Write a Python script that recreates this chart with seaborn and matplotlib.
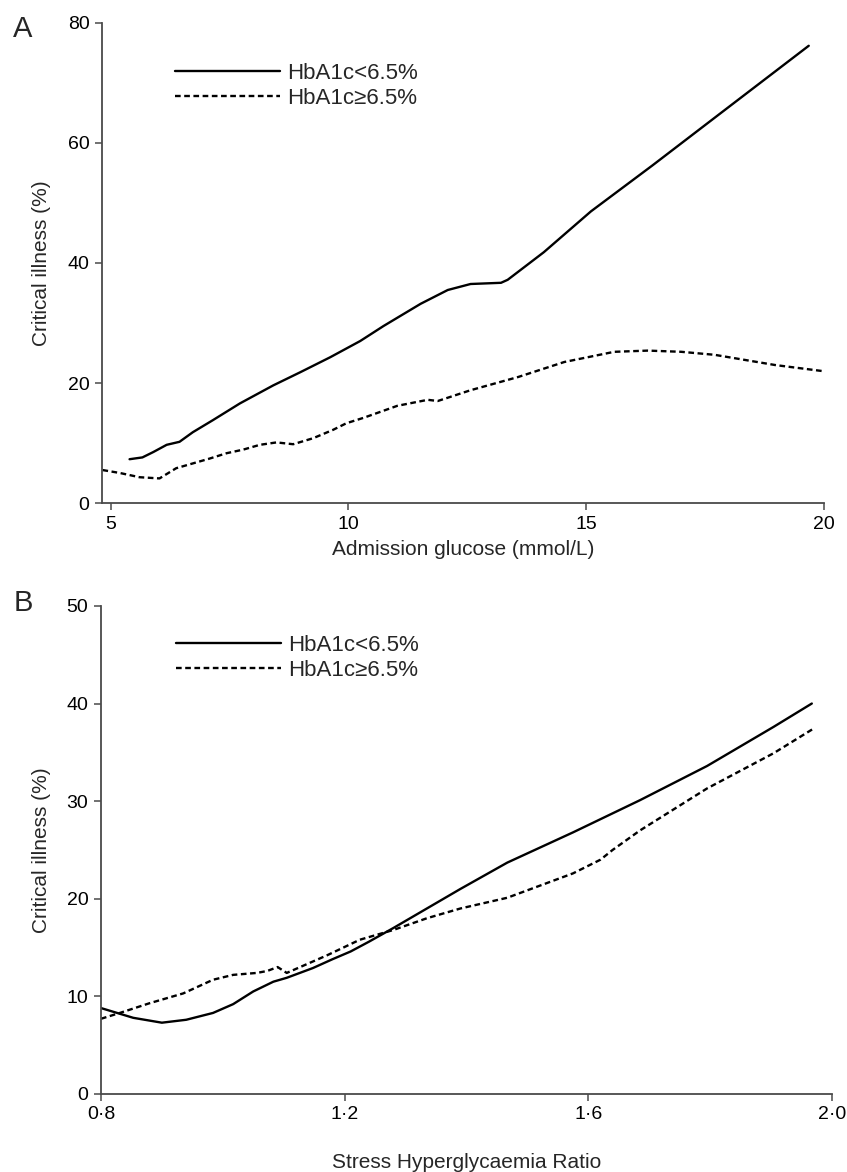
import pandas as pd
import matplotlib
matplotlib.use("Agg")
import matplotlib.pyplot as plt
import seaborn as sns

# Panel A: admission glucose (mmol/L) vs critical illness (%)
a_low_x = [5.4, 5.67, 5.9, 6.18, 6.45, 6.73, 7.15, 7.72, 8.42, 8.99, 9.62, 10.25, 10.74,
           11.52, 12.09, 12.57, 13.21, 13.35, 14.11, 15.1, 16.4, 17.8, 19.68]
a_low_y = [7.3, 7.6, 8.5, 9.7, 10.2, 11.8, 13.8, 16.6, 19.6, 21.8, 24.3, 27.0, 29.5,
           33.2, 35.5, 36.5, 36.7, 37.2, 41.8, 48.6, 56.3, 64.8, 76.2]
a_high_x = [4.83, 5.2, 5.61, 6.03, 6.38, 6.73, 7.08, 7.44, 7.79, 8.14, 8.49, 8.84, 9.26,
            9.68, 9.96, 10.32, 11.03, 11.67, 11.88, 12.57, 13.57, 14.54, 15.59, 16.3,
            17.0, 17.7, 18.97, 19.96]
a_high_y = [5.5, 5.0, 4.3, 4.1, 5.8, 6.6, 7.4, 8.3, 8.9, 9.7, 10.1, 9.8, 10.8,
            12.2, 13.3, 14.2, 16.2, 17.2, 17.0, 18.8, 21.0, 23.5, 25.2, 25.4,
            25.2, 24.7, 23.0, 22.0]

# Panel B: stress hyperglycaemia ratio vs critical illness (%)
b_low_x = [0.80, 0.853, 0.90, 0.94, 0.984, 1.017, 1.05, 1.083, 1.105, 1.148, 1.18, 1.21,
           1.24, 1.28, 1.335, 1.39, 1.467, 1.575, 1.685, 1.795, 1.904, 1.967]
b_low_y = [8.8, 7.8, 7.3, 7.6, 8.3, 9.2, 10.5, 11.5, 11.9, 12.9, 13.8, 14.6,
           15.6, 17.0, 19.0, 21.0, 23.7, 26.8, 30.1, 33.6, 37.6, 40.0]
b_high_x = [0.80, 0.831, 0.88, 0.935, 0.984, 1.017, 1.056, 1.073, 1.09, 1.105, 1.116,
            1.171, 1.225, 1.28, 1.335, 1.39, 1.467, 1.575, 1.62, 1.64, 1.685, 1.795,
            1.904, 1.969]
b_high_y = [7.7, 8.3, 9.3, 10.3, 11.7, 12.2, 12.4, 12.6, 13.0, 12.4, 12.7,
            14.2, 15.8, 16.8, 18.0, 19.0, 20.1, 22.6, 24.0, 25.0, 27.0, 31.3,
            34.9, 37.4]

groups = ["HbA1c<6.5%", "HbA1c≥6.5%"]
b_ticks = [0.8, 1.2, 1.6, 2.0]
b_ticklabels = ["0·8", "1·2", "1·6", "2·0"]

sns.set_style("ticks")
plt.rcParams["font.family"] = ["Liberation Sans", "DejaVu Sans"]

grey = "#4a4a4a"
fig = plt.figure(figsize=(8.47, 11.72), dpi=100)
ax_a = fig.add_axes([0.1204, 0.5708, 0.8524, 0.4096])
ax_b = fig.add_axes([0.1192, 0.0666, 0.8630, 0.4164])


def make_df(x_low, y_low, x_high, y_high):
    return pd.concat([
        pd.DataFrame({"x": x_low, "y": y_low, "group": groups[0]}),
        pd.DataFrame({"x": x_high, "y": y_high, "group": groups[1]}),
    ], ignore_index=True)


df_a = make_df(a_low_x, a_low_y, a_high_x, a_high_y)
df_b = make_df(b_low_x, b_low_y, b_high_x, b_high_y)

for ax, df in [(ax_a, df_a), (ax_b, df_b)]:
    sns.lineplot(data=df, x="x", y="y", hue="group", style="group",
                 palette={groups[0]: "black", groups[1]: "black"},
                 dashes={groups[0]: "", groups[1]: (2.4, 1.5)},
                 estimator=None, sort=True, linewidth=1.7, ax=ax)
    sns.despine(ax=ax)
    for s in ["left", "bottom"]:
        ax.spines[s].set_color(grey)
        ax.spines[s].set_linewidth(1.3)
    ax.tick_params(axis="both", colors=grey, labelcolor="black", length=5,
                   width=1.1, labelsize=14, pad=4)
    ax.get_legend().remove()
    ax.set_ylabel("Critical illness (%)", fontsize=15)

ax_a.set_xlim(4.82, 20)
ax_a.set_ylim(0, 80)
ax_a.set_xticks([5, 10, 15, 20])
ax_a.set_yticks([0, 20, 40, 60, 80])
ax_a.set_xlabel("Admission glucose (mmol/L)", fontsize=15)
ax_a.xaxis.set_label_coords(0.5, -0.077)
ax_a.yaxis.set_label_coords(-0.07, 0.5)

ax_b.set_xlim(0.8, 2.0)
ax_b.set_ylim(0, 50)
ax_b.set_xticks(b_ticks)
ax_b.set_xticklabels(b_ticklabels)
ax_b.set_yticks([0, 10, 20, 30, 40, 50])
ax_b.set_xlabel("Stress Hyperglycaemia Ratio", fontsize=15)
ax_b.xaxis.set_label_coords(0.5, -0.121)
ax_b.yaxis.set_label_coords(-0.068, 0.5)

for ax, anchor in [(ax_a, (0.101, 0.917)), (ax_b, (0.1026, 0.941))]:
    h, l = ax.get_legend_handles_labels()
    ax.legend(h, l, loc="upper left", bbox_to_anchor=anchor, frameon=False,
              fontsize=16, handlelength=4.73, handletextpad=0.32,
              labelspacing=0.18, borderpad=0, borderaxespad=0)

fig.text(0.027, 0.975, "A", fontsize=21, ha="center", va="center")
fig.text(0.027, 0.4855, "B", fontsize=21, ha="center", va="center")

fig.savefig("out.png", dpi=100)
